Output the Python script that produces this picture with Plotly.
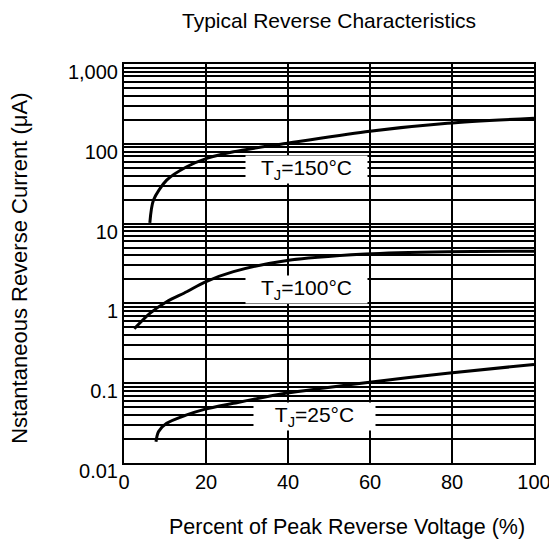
import math
import plotly.graph_objects as go

# Data
x_150 = [6.3, 7.2, 10.4, 15.3, 20.2, 26.7, 39.4, 58.9, 78.9, 100]
y_150 = [10.2, 19.8, 35, 51.6, 65.8, 79.6, 101, 142, 181, 209]

x_100 = [2.5, 6.3, 10.4, 15.3, 19.6, 26.7, 39.4, 58.9, 78.9, 100]
y_100 = [0.48, 0.75, 1.05, 1.40, 1.84, 2.50, 3.43, 4.16, 4.45, 4.5]

x_25 = [7.8, 8.4, 10.4, 15.3, 19.6, 26.7, 39.4, 58.9, 78.9, 100]
y_25 = [0.0185, 0.0247, 0.0314, 0.040, 0.047, 0.056, 0.0747, 0.1015, 0.133, 0.172]

labels = ["T<sub>J</sub>=150°C", "T<sub>J</sub>=100°C", "T<sub>J</sub>=25°C"]
label_x = [44.4, 44.4, 46.4]
label_y = [48.3, 1.49, 0.038]

ytick_vals = [0.01, 0.1, 1, 10, 100, 1000]
ytick_text = ["0.01", "0.1", "1", "10", "100", "1,000"]
xtick_vals = [0, 20, 40, 60, 80, 100]
minor_vals = [m * d for d in [0.01, 0.1, 1, 10, 100] for m in range(2, 10)]

title_text = "Typical Reverse Characteristics"
x_title = "Percent of Peak Reverse Voltage (%)"
y_title = "Nstantaneous Reverse Current (μA)"

FONT = "Liberation Sans, Arial, sans-serif"

fig = go.Figure()
for xs, ys in [(x_150, y_150), (x_100, y_100), (x_25, y_25)]:
    fig.add_trace(go.Scatter(x=xs, y=ys, mode="lines",
                             line=dict(color="black", width=3, shape="spline", smoothing=0.8),
                             showlegend=False, hoverinfo="skip"))

for t, lx, ly in zip(labels, label_x, label_y):
    fig.add_annotation(x=lx, y=math.log10(ly), yref="y", xref="x", text=t, showarrow=False,
                       bgcolor="white", width=119, height=25,
                       font=dict(family=FONT, size=21, color="black"))

fig.add_annotation(x=0.5, y=1.108, xref="paper", yref="paper", text=title_text,
                   showarrow=False, xanchor="center", yanchor="middle",
                   font=dict(family=FONT, size=21, color="black"))
fig.add_annotation(x=0.544, y=-0.160, xref="paper", yref="paper", text=x_title,
                   showarrow=False, xanchor="center", yanchor="middle",
                   font=dict(family=FONT, size=21.5, color="black"))
fig.add_annotation(x=-0.2537, y=0.489, xref="paper", yref="paper", text=y_title,
                   showarrow=False, xanchor="center", yanchor="middle", textangle=-90,
                   font=dict(family=FONT, size=22, color="black"))

fig.update_layout(
    width=549, height=532,
    margin=dict(l=116, r=23, t=56, b=77),
    paper_bgcolor="white", plot_bgcolor="white",
    font=dict(family=FONT, size=20, color="black"),
)

fig.update_xaxes(range=[0, 100], tickvals=xtick_vals, showgrid=True, gridcolor="black",
                 gridwidth=1.5, showline=True, linecolor="black", linewidth=2, mirror=True,
                 ticks="", zeroline=False, automargin=False, ticklabeloverflow="allow")
fig.update_yaxes(type="log", range=[-2, 3], tickvals=ytick_vals, ticktext=ytick_text,
                 showgrid=True, gridcolor="black", gridwidth=1.5, ticklabelshift=8,
                 minor=dict(tickvals=minor_vals, showgrid=True, gridcolor="black", gridwidth=1.5,
                            ticks=""),
                 showline=True, linecolor="black", linewidth=2, mirror=True, ticks="",
                 automargin=False, ticklabeloverflow="allow")

fig.write_html("out.html")
